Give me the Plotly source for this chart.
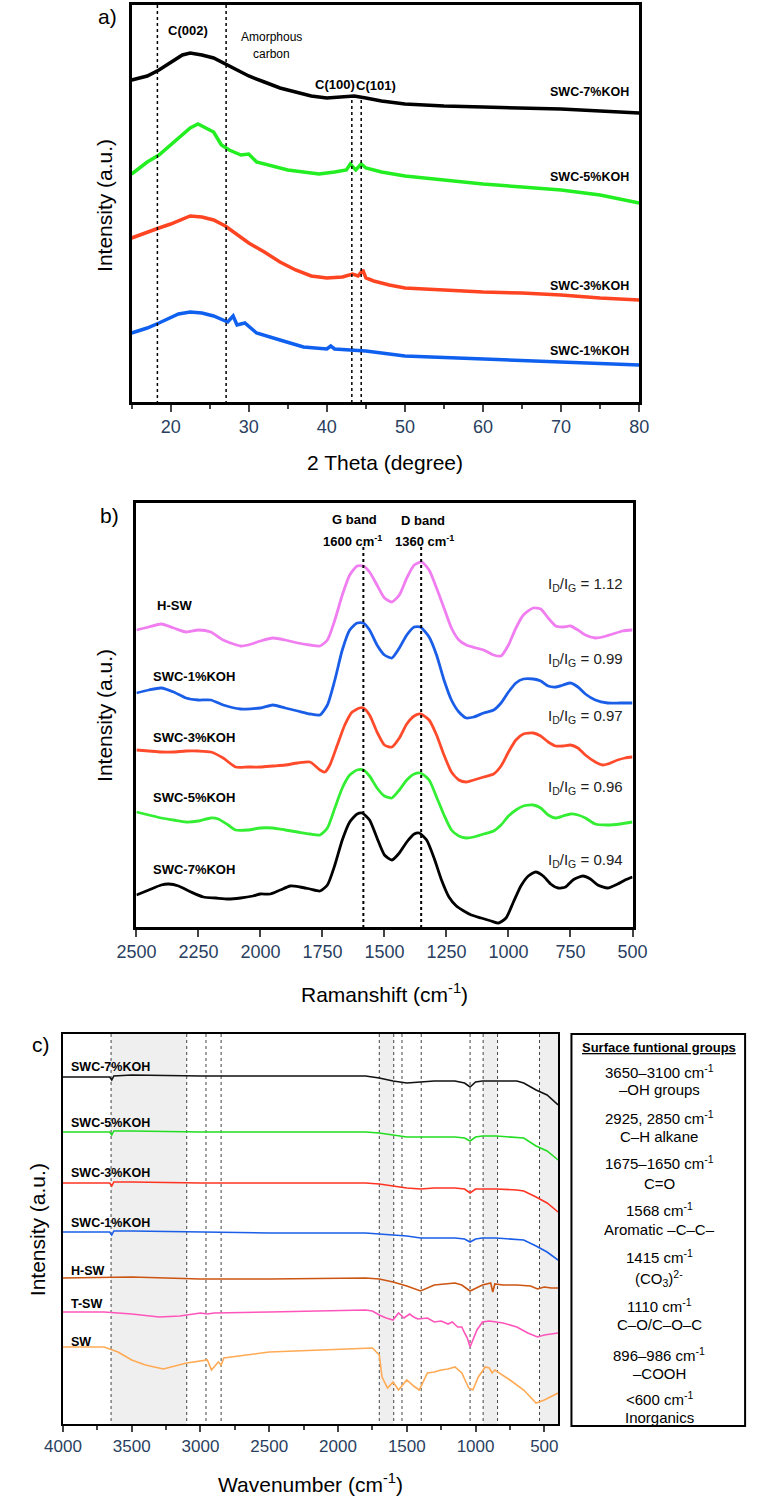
import plotly.graph_objects as go

W, H = 762, 1501
NARROW = "Liberation Sans Narrow, Arial Narrow, Liberation Sans, Arial, sans-serif"
SANS = "Liberation Sans, Arial, Helvetica, sans-serif"

# ---------------- Panel a: XRD (values = screen depth, axis reversed) -------------
xrd_7_x = [15, 17, 18.5, 20, 21.5, 22.5, 24, 25.5, 27, 28.5, 30, 32, 34, 36, 38, 40, 42, 43.5, 45, 47, 50, 55, 60, 65, 70, 75, 80]
xrd_7_y = [80, 76, 70, 62, 55, 53, 55, 58, 64, 70, 76, 82, 88, 92, 96, 98, 97, 96, 98, 101, 104, 106, 107, 108, 109, 111, 113]
xrd_5_x = [15, 17, 18.5, 20, 21.5, 22.5, 23.5, 24.5, 25.5, 26.5, 27.5, 29, 30, 31, 33, 35, 37, 39, 41, 42.5, 43, 43.7, 44.4, 45, 47, 50, 55, 60, 65, 70, 75, 80]
xrd_5_y = [174, 162, 155, 145, 135, 128, 124, 128, 132, 145, 150, 155, 154, 162, 166, 170, 172, 174, 172, 170, 164, 170, 164, 168, 172, 176, 180, 184, 187, 190, 195, 203]
xrd_3_x = [15, 17, 18.5, 20, 21.5, 22.5, 24, 25.5, 27, 28.5, 30, 32, 34, 36, 38, 40, 42, 43.3, 44, 44.6, 45, 46, 48, 50, 55, 60, 65, 70, 75, 80]
xrd_3_y = [238, 232, 228, 224, 219, 216, 217, 220, 226, 234, 243, 252, 262, 270, 276, 278, 277, 274, 276, 270, 278, 281, 285, 288, 290, 292, 293, 295, 298, 300]
xrd_1_x = [15, 17, 18.5, 20, 21, 22.5, 24, 25.5, 26.5, 27.3, 28, 28.5, 29.5, 31, 34, 37, 40, 40.5, 41, 43, 45, 50, 60, 70, 80]
xrd_1_y = [333, 328, 323, 318, 314, 312, 313, 316, 319, 322, 316, 325, 323, 333, 340, 347, 349, 346, 349, 350, 351, 356, 359, 362, 365]
xrd_names = ["SWC-7%KOH", "SWC-5%KOH", "SWC-3%KOH", "SWC-1%KOH"]
xrd_label_y = [92, 177, 286, 351]
xrd_full_lines = [18.3, 27.1]
xrd_peak_lines = [43.2, 44.4]

# ---------------- Panel b: Raman ----------------
rm_pink_x = [2500, 2450, 2400, 2350, 2300, 2250, 2200, 2150, 2080, 2050, 2000, 1950, 1900, 1850, 1800, 1760, 1730, 1700, 1670, 1640, 1610, 1585, 1560, 1530, 1500, 1470, 1440, 1410, 1380, 1350, 1320, 1290, 1260, 1230, 1200, 1170, 1130, 1100, 1060, 1030, 1000, 970, 940, 900, 870, 840, 810, 780, 750, 720, 690, 650, 620, 580, 540, 500]
rm_pink_y = [630, 627, 624, 628, 632, 630, 632, 640, 646, 645, 641, 638, 640, 643, 645, 646, 640, 620, 595, 575, 566, 566, 572, 585, 598, 602, 595, 578, 565, 562, 570, 588, 608, 628, 640, 645, 648, 650, 655, 656, 645, 628, 615, 608, 609, 618, 626, 627, 626, 630, 635, 638, 637, 634, 631, 630]
rm_blue_x = [2500, 2450, 2400, 2350, 2300, 2250, 2200, 2150, 2080, 2000, 1950, 1900, 1850, 1800, 1760, 1730, 1700, 1670, 1640, 1610, 1585, 1560, 1530, 1500, 1470, 1440, 1410, 1380, 1355, 1320, 1290, 1260, 1230, 1200, 1170, 1140, 1100, 1060, 1030, 1000, 970, 940, 900, 870, 840, 810, 780, 750, 720, 690, 650, 600, 550, 500]
rm_blue_y = [693, 690, 688, 692, 698, 700, 700, 705, 709, 708, 705, 708, 711, 714, 715, 705, 680, 650, 630, 623, 623, 630, 645, 655, 658, 648, 635, 627, 627, 637, 655, 680, 700, 712, 718, 717, 713, 710, 703, 692, 683, 679, 679, 681, 686, 687, 685, 683, 687, 694, 700, 703, 703, 703]
rm_red_x = [2500, 2450, 2400, 2350, 2300, 2250, 2200, 2150, 2100, 2050, 2000, 1950, 1900, 1850, 1800, 1760, 1740, 1720, 1690, 1660, 1630, 1600, 1585, 1560, 1530, 1500, 1470, 1440, 1410, 1380, 1355, 1320, 1290, 1260, 1230, 1200, 1170, 1140, 1100, 1060, 1030, 1000, 970, 940, 900, 870, 840, 810, 780, 750, 720, 690, 650, 620, 600, 560, 530, 500]
rm_red_y = [750, 751, 752, 752, 751, 751, 752, 758, 767, 767, 767, 766, 765, 763, 762, 770, 772, 765, 745, 725, 712, 708, 708, 715, 732, 745, 747, 738, 724, 716, 714, 720, 735, 755, 772, 780, 782, 780, 777, 774, 766, 752, 740, 734, 733, 736, 742, 746, 746, 745, 748, 755, 762, 765, 764, 760, 758, 757]
rm_green_x = [2500, 2450, 2400, 2350, 2300, 2250, 2200, 2170, 2130, 2100, 2050, 2000, 1950, 1900, 1850, 1800, 1760, 1730, 1700, 1670, 1640, 1610, 1585, 1560, 1530, 1500, 1470, 1440, 1410, 1380, 1355, 1320, 1290, 1260, 1230, 1200, 1170, 1140, 1100, 1060, 1030, 1000, 970, 940, 900, 870, 840, 810, 780, 750, 720, 690, 650, 600, 550, 500]
rm_green_y = [812, 815, 818, 820, 822, 821, 818, 819, 825, 830, 830, 828, 828, 830, 832, 834, 835, 828, 808, 788, 775, 770, 770, 776, 788, 796, 798, 790, 780, 774, 773, 780, 797, 815, 830, 836, 838, 837, 834, 831, 825, 816, 810, 806, 805, 808, 815, 818, 816, 814, 815, 818, 824, 825, 824, 822]
rm_black_x = [2500, 2450, 2400, 2370, 2330, 2280, 2230, 2180, 2130, 2080, 2030, 2000, 1960, 1920, 1880, 1840, 1800, 1760, 1730, 1700, 1670, 1640, 1610, 1590, 1560, 1530, 1500, 1470, 1440, 1410, 1380, 1360, 1330, 1300, 1270, 1240, 1210, 1180, 1150, 1110, 1070, 1040, 1010, 980, 950, 920, 890, 860, 830, 800, 770, 740, 700, 670, 640, 600, 560, 530, 500]
rm_black_y = [895, 890, 885, 884, 886, 892, 897, 898, 899, 898, 896, 894, 894, 890, 886, 887, 889, 891, 885, 865, 840, 822, 814, 813, 820, 838, 855, 860, 853, 842, 834, 833, 840, 858, 880, 897, 906, 911, 915, 918, 921, 923, 918, 902, 886, 876, 872, 876, 884, 888, 887, 880, 876, 879, 885, 888, 884, 880, 877]
rm_names = ["H-SW", "SWC-1%KOH", "SWC-3%KOH", "SWC-5%KOH", "SWC-7%KOH"]
rm_label_y = [605, 677, 737, 797, 870]
rm_ratio = ["1.12", "0.99", "0.97", "0.96", "0.94"]
rm_ratio_y = [585, 660, 717, 787, 860]
rm_band_lines = [1585, 1352]

# ---------------- Panel c: FTIR ----------------
ir_7_x = [4000, 3660, 3645, 3630, 3500, 3000, 2500, 2000, 1800, 1700, 1600, 1500, 1400, 1300, 1150, 1080, 1040, 1000, 950, 850, 700, 650, 560, 480, 400]
ir_7_y = [1077, 1077, 1080, 1076, 1075, 1076, 1076, 1076, 1076, 1078, 1081, 1083, 1082, 1081, 1081, 1083, 1087, 1082, 1081, 1081, 1081, 1083, 1090, 1095, 1105]
ir_5_x = [4000, 3660, 3645, 3630, 3500, 3000, 2500, 2000, 1800, 1700, 1600, 1500, 1400, 1300, 1150, 1080, 1040, 1000, 950, 850, 700, 650, 560, 480, 400]
ir_5_y = [1132, 1132, 1135, 1131, 1131, 1132, 1132, 1132, 1132, 1133, 1135, 1137, 1137, 1137, 1137, 1138, 1141, 1137, 1136, 1136, 1137, 1138, 1146, 1151, 1160]
ir_3_x = [4000, 3660, 3645, 3630, 3500, 3000, 2500, 2000, 1800, 1700, 1600, 1500, 1400, 1300, 1150, 1080, 1040, 1000, 950, 850, 700, 650, 560, 480, 400]
ir_3_y = [1183, 1183, 1186, 1182, 1182, 1183, 1183, 1183, 1183, 1184, 1186, 1188, 1189, 1188, 1188, 1189, 1193, 1189, 1189, 1189, 1190, 1191, 1197, 1203, 1212]
ir_1_x = [4000, 3660, 3645, 3630, 3500, 3000, 2500, 2000, 1800, 1700, 1600, 1500, 1400, 1300, 1150, 1080, 1040, 1000, 950, 850, 700, 650, 560, 480, 400]
ir_1_y = [1232, 1232, 1235, 1231, 1231, 1232, 1233, 1233, 1233, 1234, 1235, 1236, 1238, 1238, 1238, 1239, 1242, 1239, 1238, 1238, 1239, 1240, 1246, 1252, 1260]
ir_h_x = [4000, 3500, 3000, 2500, 1800, 1700, 1600, 1500, 1400, 1350, 1300, 1150, 1100, 1040, 1000, 950, 890, 875, 860, 800, 700, 600, 550, 500, 450, 400]
ir_h_y = [1278, 1277, 1279, 1279, 1278, 1279, 1282, 1286, 1291, 1288, 1285, 1283, 1285, 1291, 1288, 1285, 1283, 1292, 1284, 1285, 1285, 1286, 1289, 1287, 1288, 1288]
ir_t_x = [4000, 3700, 3500, 3300, 3150, 3000, 2950, 2900, 2500, 1800, 1750, 1700, 1650, 1600, 1560, 1520, 1480, 1450, 1420, 1350, 1300, 1250, 1200, 1170, 1130, 1100, 1080, 1060, 1040, 1020, 990, 950, 900, 850, 800, 700, 620, 550, 500, 450, 400]
ir_t_y = [1312, 1312, 1314, 1317, 1316, 1313, 1314, 1313, 1312, 1310, 1311, 1315, 1318, 1320, 1313, 1318, 1314, 1317, 1319, 1318, 1322, 1321, 1324, 1322, 1327, 1327, 1333, 1338, 1347, 1340, 1330, 1322, 1321, 1322, 1323, 1327, 1333, 1337, 1335, 1334, 1333]
ir_sw_x = [4000, 3700, 3600, 3500, 3400, 3270, 3100, 3000, 2950, 2920, 2870, 2850, 2830, 2500, 2000, 1750, 1700, 1680, 1640, 1600, 1560, 1500, 1450, 1410, 1350, 1300, 1250, 1200, 1150, 1100, 1050, 1020, 980, 930, 900, 880, 860, 750, 650, 560, 500, 400]
ir_sw_y = [1347, 1347, 1352, 1360, 1365, 1369, 1363, 1361, 1360, 1370, 1362, 1365, 1358, 1352, 1349, 1348, 1355, 1377, 1388, 1382, 1390, 1380, 1386, 1390, 1373, 1372, 1370, 1369, 1367, 1373, 1388, 1390, 1377, 1367, 1368, 1373, 1370, 1380, 1390, 1403, 1400, 1393]
ir_names = ["SWC-7%KOH", "SWC-5%KOH", "SWC-3%KOH", "SWC-1%KOH", "H-SW", "T-SW", "SW"]
ir_label_y = [1067, 1123, 1173, 1223, 1271, 1304, 1342]
ir_lines = [3650, 3100, 2960, 2850, 1700, 1595, 1535, 1395, 1040, 945, 840, 535]
ir_shades = [(3650, 3100), (1700, 1595), (945, 840), (535, 400)]
table_title = "Surface funtional groups"
table_rows = [
    ("3650–3100 cm<sup>-1</sup>", "–OH groups"),
    ("2925, 2850 cm<sup>-1</sup>", "C–H alkane"),
    ("1675–1650 cm<sup>-1</sup>", "C=O"),
    ("1568 cm<sup>-1</sup>", "Aromatic –C–C–"),
    ("1415 cm<sup>-1</sup>", "(CO<sub>3</sub>)<sup>2-</sup>"),
    ("1110 cm<sup>-1</sup>", "C–O/C–O–C"),
    ("896–986 cm<sup>-1</sup>", "–COOH"),
    ("<600 cm<sup>-1</sup>", "Inorganics"),
]
table_num_y = [1071, 1117, 1162, 1209, 1256, 1305, 1354, 1398]
table_name_y = [1089, 1136, 1183, 1229, 1278, 1324, 1373, 1417]


def px(x):
    return x / W


def py(y):
    return 1 - y / H


fig = go.Figure()

# Panel a traces
for xs, ys, c in [(xrd_7_x, xrd_7_y, "#000000"), (xrd_5_x, xrd_5_y, "#22ee22"),
                  (xrd_3_x, xrd_3_y, "#ff4422"), (xrd_1_x, xrd_1_y, "#1060f0")]:
    fig.add_trace(go.Scatter(x=xs, y=ys, mode="lines", line=dict(color=c, width=3.5),
                             xaxis="x", yaxis="y", showlegend=False))
# Panel b traces
for xs, ys, c in [(rm_pink_x, rm_pink_y, "#f07ef0"), (rm_blue_x, rm_blue_y, "#1a5ee8"),
                  (rm_red_x, rm_red_y, "#ff4b2b"), (rm_green_x, rm_green_y, "#33ee33"),
                  (rm_black_x, rm_black_y, "#000000")]:
    fig.add_trace(go.Scatter(x=xs, y=ys, mode="lines", line=dict(color=c, width=2.8, shape="spline", smoothing=0.6),
                             xaxis="x2", yaxis="y2", showlegend=False))
# Panel c traces
for xs, ys, c in [(ir_7_x, ir_7_y, "#111111"), (ir_5_x, ir_5_y, "#22dd22"),
                  (ir_3_x, ir_3_y, "#ff3322"), (ir_1_x, ir_1_y, "#1a5ee8"),
                  (ir_h_x, ir_h_y, "#cc5511"), (ir_t_x, ir_t_y, "#ff55bb"),
                  (ir_sw_x, ir_sw_y, "#ffaa55")]:
    fig.add_trace(go.Scatter(x=xs, y=ys, mode="lines", line=dict(color=c, width=1.6),
                             xaxis="x3", yaxis="y3", showlegend=False))

shapes = []
for v in xrd_full_lines:
    shapes.append(dict(type="line", xref="x", yref="y", x0=v, x1=v, y0=5, y1=402,
                       line=dict(color="black", width=1.5, dash="dot")))
for v in xrd_peak_lines:
    shapes.append(dict(type="line", xref="x", yref="y", x0=v, x1=v, y0=100, y1=402,
                       line=dict(color="black", width=1.5, dash="dot")))
for v in rm_band_lines:
    shapes.append(dict(type="line", xref="x2", yref="y2", x0=v, x1=v, y0=547, y1=927,
                       line=dict(color="black", width=2, dash="dot")))
for a, b in ir_shades:
    shapes.append(dict(type="rect", xref="x3", yref="y3", x0=a, x1=b, y0=1034, y1=1424,
                       fillcolor="#efefef", line=dict(width=0), layer="below"))
for v in ir_lines:
    shapes.append(dict(type="line", xref="x3", yref="y3", x0=v, x1=v, y0=1034, y1=1424,
                       line=dict(color="#444444", width=1, dash="dot"), layer="below"))
shapes.append(dict(type="rect", xref="paper", yref="paper", x0=px(578), x1=px(760),
                   y0=py(1426), y1=py(1034), line=dict(color="black", width=2)))

ann = []


def text(x, y, t, size=12, bold=False, font=NARROW, xanchor="center", angle=0, color="black"):
    if bold:
        t = "<b>" + t + "</b>"
    ann.append(dict(x=px(x), y=py(y), xref="paper", yref="paper", text=t, showarrow=False,
                    font=dict(size=size, family=font, color=color), xanchor=xanchor,
                    yanchor="middle", textangle=angle))


# Panel a annotations
text(92, 17, "a)", 21, font=SANS)
text(88, 205, "Intensity (a.u.)", 21, font=SANS, angle=-90)
text(383, 462, "2 Theta (degree)", 21, font=SANS)
text(176, 30, "C(002)", 13, bold=True)
text(264, 37, "Amorphous", 12)
text(264, 54, "carbon", 12)
text(330, 85, "C(100)", 13, bold=True)
text(373, 86, "C(101)", 13, bold=True)
for name, yy in zip(xrd_names, xrd_label_y):
    text(640, yy, name, 12.5, bold=True, xanchor="right")

# Panel b annotations
text(94, 516, "b)", 21, font=SANS)
text(88, 715, "Intensity (a.u.)", 21, font=SANS, angle=-90)
text(382, 993, "Ramanshift (cm<sup>-1</sup>)", 21, font=SANS)
text(351, 519, "G band", 13, bold=True)
text(348, 541, "1600 cm<sup>-1</sup>", 13, bold=True)
text(422, 520, "D band", 13, bold=True)
text(424, 541, "1360 cm<sup>-1</sup>", 13, bold=True)
for name, yy in zip(rm_names, rm_label_y):
    text(137 if name != "H-SW" else 141, yy, name, 13, bold=True, xanchor="left")
for r, yy in zip(rm_ratio, rm_ratio_y):
    text(634, yy, "I<sub>D</sub>/I<sub>G</sub> = " + r, 15, xanchor="right", color="#222222")

# Panel c annotations
text(22, 1044, "c)", 21, font=SANS)
text(18, 1230, "Intensity (a.u.)", 21, font=SANS, angle=-90)
text(305, 1483, "Wavenumber (cm<sup>-1</sup>)", 21, font=SANS)
for name, yy in zip(ir_names, ir_label_y):
    text(51, yy, name, 12.5, bold=True, xanchor="left")
text(670, 1047, "<u>" + table_title + "</u>", 13, bold=True)
for (num, name), y1, y2 in zip(table_rows, table_num_y, table_name_y):
    text(670, y1, num, 15)
    text(670, y2, name, 15)

axis_common = dict(showline=True, linecolor="black", mirror=True, showgrid=False, zeroline=False)

fig.update_layout(
    width=W, height=H, margin=dict(l=0, r=0, t=0, b=0),
    plot_bgcolor="white", paper_bgcolor="white",
    shapes=shapes, annotations=ann,
    xaxis=dict(domain=[px(117), px(649)], range=[15, 80], tickvals=[20, 30, 40, 50, 60, 70, 80],
               ticks="outside", ticklen=7, tickwidth=2, linewidth=2.5,
               minor=dict(dtick=5, tick0=15, ticks="outside", ticklen=4, tickwidth=2),
               tickfont=dict(family=NARROW, size=18), anchor="y", **axis_common),
    yaxis=dict(domain=[py(402), py(5)], range=[402, 5], showticklabels=False, ticks="",
               linewidth=2.5, anchor="x", **axis_common),
    xaxis2=dict(domain=[px(122), px(642)], range=[2500, 500], dtick=250,
                ticks="outside", ticklen=7, tickwidth=2, linewidth=2.5,
                tickfont=dict(family=NARROW, size=18), anchor="y2", **axis_common),
    yaxis2=dict(domain=[py(927), py(503)], range=[927, 503], showticklabels=False, ticks="",
                linewidth=2.5, anchor="x2", **axis_common),
    xaxis3=dict(domain=[px(45), px(564)], range=[4000, 400], tickvals=[4000, 3500, 3000, 2500, 2000, 1500, 1000, 500],
                ticks="outside", ticklen=6, tickwidth=2, linewidth=2,
                minor=dict(dtick=250, tick0=0, ticks="outside", ticklen=4, tickwidth=2),
                tickfont=dict(family=SANS, size=17), anchor="y3", **axis_common),
    yaxis3=dict(domain=[py(1424), py(1034)], range=[1424, 1034], showticklabels=False, ticks="",
                linewidth=2, anchor="x3", **axis_common),
)

fig.write_html("out.html")
